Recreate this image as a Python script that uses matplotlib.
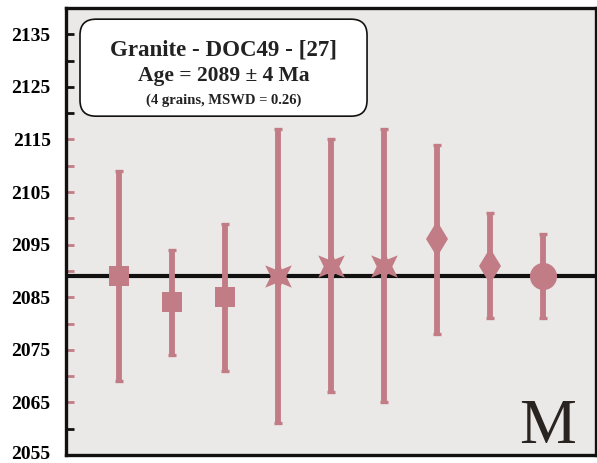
import numpy as np
import matplotlib.pyplot as plt
import matplotlib.transforms as mtransforms
from matplotlib.patches import FancyBboxPatch
from matplotlib.path import Path

# spot analyses (age in Ma, error bar half-width)
x_pos = [1, 2, 3, 4, 5, 6, 7, 8, 9]
ages = [2089, 2084, 2085, 2089, 2091, 2091, 2096, 2091, 2089]
errors = [20, 10, 14, 28, 24, 26, 18, 10, 8]
shapes = ["s", "s", "s", "star", "star", "star", "d", "d", "o"]

mean_age = 2089
tick_values = list(range(2055, 2140, 5))
tick_labels = [str(v) if (v - 2055) % 10 == 0 else "" for v in tick_values]

rose = "#c17c86"
plt.rcParams["font.family"] = ["Liberation Serif", "DejaVu Serif"]

# spiky star marker (diagonal spikes, vertical spikes hidden by bar)
outer = np.radians([90, 40, -40, -90, -140, 140])
verts = []
for i, a in enumerate(outer):
    b = outer[(i + 1) % len(outer)]
    if b > a:
        b -= 2 * np.pi
    mid = (a + b) / 2
    verts.append((np.cos(a), np.sin(a)))
    verts.append((0.45 * np.cos(mid), 0.45 * np.sin(mid)))
verts.append(verts[0])
star = Path(verts, closed=True)

fig = plt.figure(figsize=(5.97, 4.63), dpi=100)
ax = fig.add_axes([66 / 597, 8 / 463, 530 / 597, 447 / 463])
ax.set_facecolor("#ebe9e7")

ax.axhline(mean_age, color="#111111", lw=3, zorder=2)

sizes = {"s": 15, "star": 25, "d": 18, "o": 19.5}
for xi, age, err, shp in zip(x_pos, ages, errors, shapes):
    ax.errorbar(xi, age, yerr=err, fmt="none", ecolor=rose, elinewidth=4.2,
                capsize=3.2, capthick=2.4, zorder=3)
    m = star if shp == "star" else shp
    ax.plot(xi, age, marker=m, ms=sizes[shp], color=rose, mec=rose,
            mew=0, zorder=4)

ax.set_xlim(0, 10)
ax.set_ylim(2055, 2140)
ax.set_xticks([])
ax.set_yticks(tick_values)
ax.set_yticklabels(tick_labels, fontsize=14, fontweight="bold")
ax.tick_params(axis="y", direction="in", length=6, width=2, pad=11)
for v, tk in zip(tick_values, ax.yaxis.get_major_ticks()):
    tk.tick1line.set_markeredgecolor(rose if 2065 <= v <= 2115 else "#111111")

# keep the bottom label inside the figure
lbl = ax.get_yticklabels()[0]
lbl.set_transform(lbl.get_transform() +
                  mtransforms.ScaledTranslation(0, 2 / 72, fig.dpi_scale_trans))

for s in ax.spines.values():
    s.set_linewidth(2.4)
    s.set_color("#111111")

# info box
box = FancyBboxPatch((0.0264, 0.758), 0.5416, 0.217, transform=ax.transAxes,
                     boxstyle="round,pad=0,rounding_size=0.03",
                     mutation_aspect=530 / 447, fc="white", ec="#111111",
                     lw=1.2, zorder=5)
ax.add_patch(box)
ax.text(0.297, 0.906, "Granite - DOC49 - [27]", transform=ax.transAxes,
        ha="center", va="center", fontsize=16.5, fontweight="bold",
        color="#222222", zorder=6)
ax.text(0.297, 0.848, "Age = 2089 \u00b1 4 Ma", transform=ax.transAxes,
        ha="center", va="center", fontsize=15.5, fontweight="bold",
        color="#222222", zorder=6)
ax.text(0.297, 0.794, "(4 grains, MSWD = 0.26)", transform=ax.transAxes,
        ha="center", va="center", fontsize=10.5, fontweight="bold",
        color="#222222", zorder=6)

ax.text(0.908, 0.027, "M", transform=ax.transAxes, ha="center",
        va="baseline", fontsize=46, color="#2a2420")

fig.savefig("out.png", dpi=100)
